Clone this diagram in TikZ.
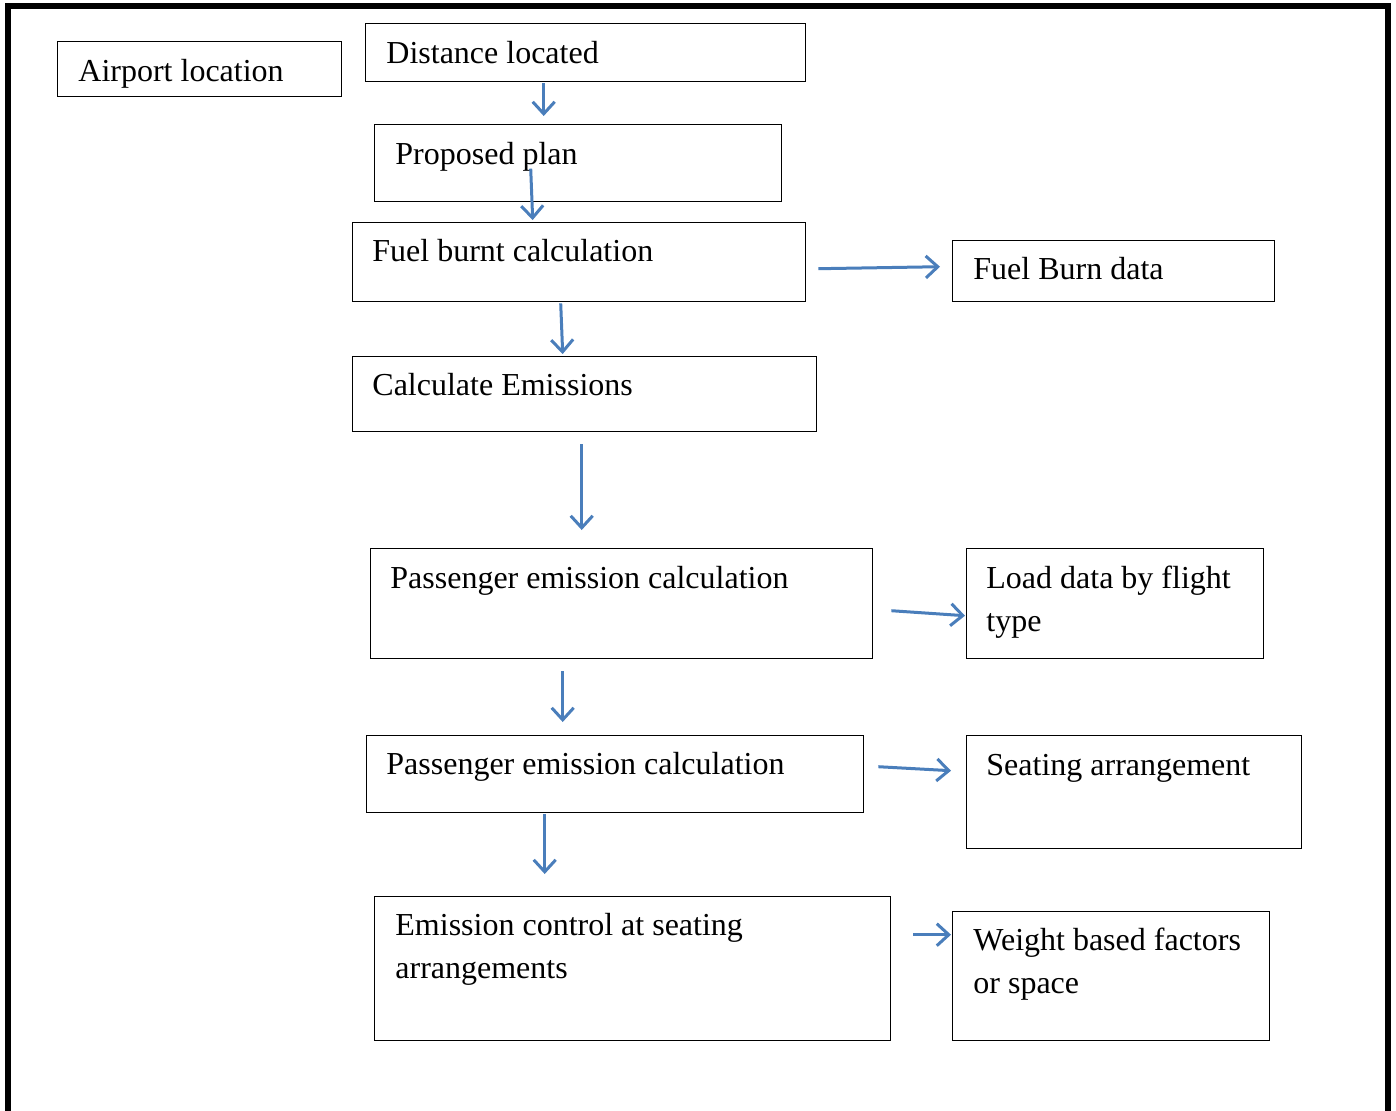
\documentclass[tikz,border=0pt]{standalone}
\usepackage{fontspec}
\setmainfont{Liberation Serif}
\usepackage{tikz}
\usetikzlibrary{arrows.meta, positioning, calc}
\definecolor{flowblue}{RGB}{74,126,187}
\tikzset{
  block/.style={rectangle, draw=black, line width=0.7pt, inner sep=0pt,
    anchor=north west},
  lbl/.style={anchor=base west, inner sep=0pt, text width=300pt, align=flush left,
    font=\fontsize{16}{21.5}\selectfont},
  arrow/.style={-{Straight Barb[length=6pt, width=11pt]}, line width=1.5pt, color=flowblue},
  frame/.style={line width=3pt, color=black}
}

\begin{document}
\begin{tikzpicture}[x=0.5pt, y=-0.5pt]
  \useasboundingbox (0,0) rectangle (1396,1110);
  % Outer frame
  \draw[frame] (8,1112) -- (8,6) -- (1388,6) -- (1388,1112);

  % Boxes
  \node[block, minimum width=142pt, minimum height=27.5pt] (airport) at (57,41) {};
  \node[block, minimum width=220pt, minimum height=29pt] (dist) at (365,23) {};
  \node[block, minimum width=203.5pt, minimum height=38.5pt] (plan) at (374,124) {};
  \node[block, minimum width=226.5pt, minimum height=39.5pt] (fuel) at (352,222) {};
  \node[block, minimum width=161pt, minimum height=30.5pt] (burn) at (952,240) {};
  \node[block, minimum width=232pt, minimum height=37.5pt] (emis) at (352,356) {};
  \node[block, minimum width=251pt, minimum height=55pt] (pass1) at (370,548) {};
  \node[block, minimum width=148.5pt, minimum height=55pt] (load) at (966,548) {};
  \node[block, minimum width=248.5pt, minimum height=38.5pt] (pass2) at (366,735) {};
  \node[block, minimum width=167.5pt, minimum height=56.5pt] (seat) at (966,735) {};
  \node[block, minimum width=258pt, minimum height=72pt] (ctrl) at (374,896) {};
  \node[block, minimum width=158.5pt, minimum height=64.5pt] (weight) at (952,911) {};

  % Labels
  \node[lbl] (airport-t) at ([shift={(21,40)}]airport.north west) {Airport location};
  \node[lbl] (dist-t) at ([shift={(21,40)}]dist.north west) {Distance located};
  \node[lbl] (plan-t) at ([shift={(21,40)}]plan.north west) {Proposed plan};
  \node[lbl] (fuel-t) at ([shift={(20,39)}]fuel.north west) {Fuel burnt calculation};
  \node[lbl] (burn-t) at ([shift={(21,39)}]burn.north west) {Fuel Burn data};
  \node[lbl] (emis-t) at ([shift={(20,39)}]emis.north west) {Calculate Emissions};
  \node[lbl] (pass1-t) at ([shift={(20,40)}]pass1.north west) {Passenger emission calculation};
  \node[lbl] (load-t) at ([shift={(20,40)}]load.north west) {Load data by flight\\type};
  \node[lbl] (pass2-t) at ([shift={(20,39)}]pass2.north west) {Passenger emission calculation};
  \node[lbl] (seat-t) at ([shift={(20,40)}]seat.north west) {Seating arrangement};
  \node[lbl] (ctrl-t) at ([shift={(21,39)}]ctrl.north west) {Emission control at seating\\arrangements};
  \node[lbl] (weight-t) at ([shift={(21,39)}]weight.north west) {Weight based factors\\or space};

  % Connectors
  \draw[arrow] ([shift={(-42,1)}]dist.south) -- ([shift={(-34.5,-8)}]plan.north);
  \draw[arrow] ([shift={(-47.5,5.5)}]plan.center) -- ([shift={(-46.5,-2)}]fuel.north);
  \draw[arrow] ([shift={(-18.5,1)}]fuel.south) -- ([shift={(-22,-2)}]emis.north);
  \draw[arrow] ([shift={(12,6.5)}]fuel.east) -- ([shift={(-12,-4.5)}]burn.west);
  \draw[arrow] ([shift={(-3,12)}]emis.south) -- ([shift={(-40,-18)}]pass1.north);
  \draw[arrow] ([shift={(18,7)}]pass1.east) -- ([shift={(-1,12)}]load.west);
  \draw[arrow] ([shift={(-59,12)}]pass1.south) -- ([shift={(-52.5,-13)}]pass2.north);
  \draw[arrow] ([shift={(14,-7.5)}]pass2.east) -- ([shift={(-15,-21.5)}]seat.west);
  \draw[arrow] ([shift={(-70.5,1)}]pass2.south) -- ([shift={(-88,-22)}]ctrl.north);
  \draw[arrow] ([shift={(22,-34)}]ctrl.east) -- ([shift={(-1,-41.5)}]weight.west);
\end{tikzpicture}
\end{document}
